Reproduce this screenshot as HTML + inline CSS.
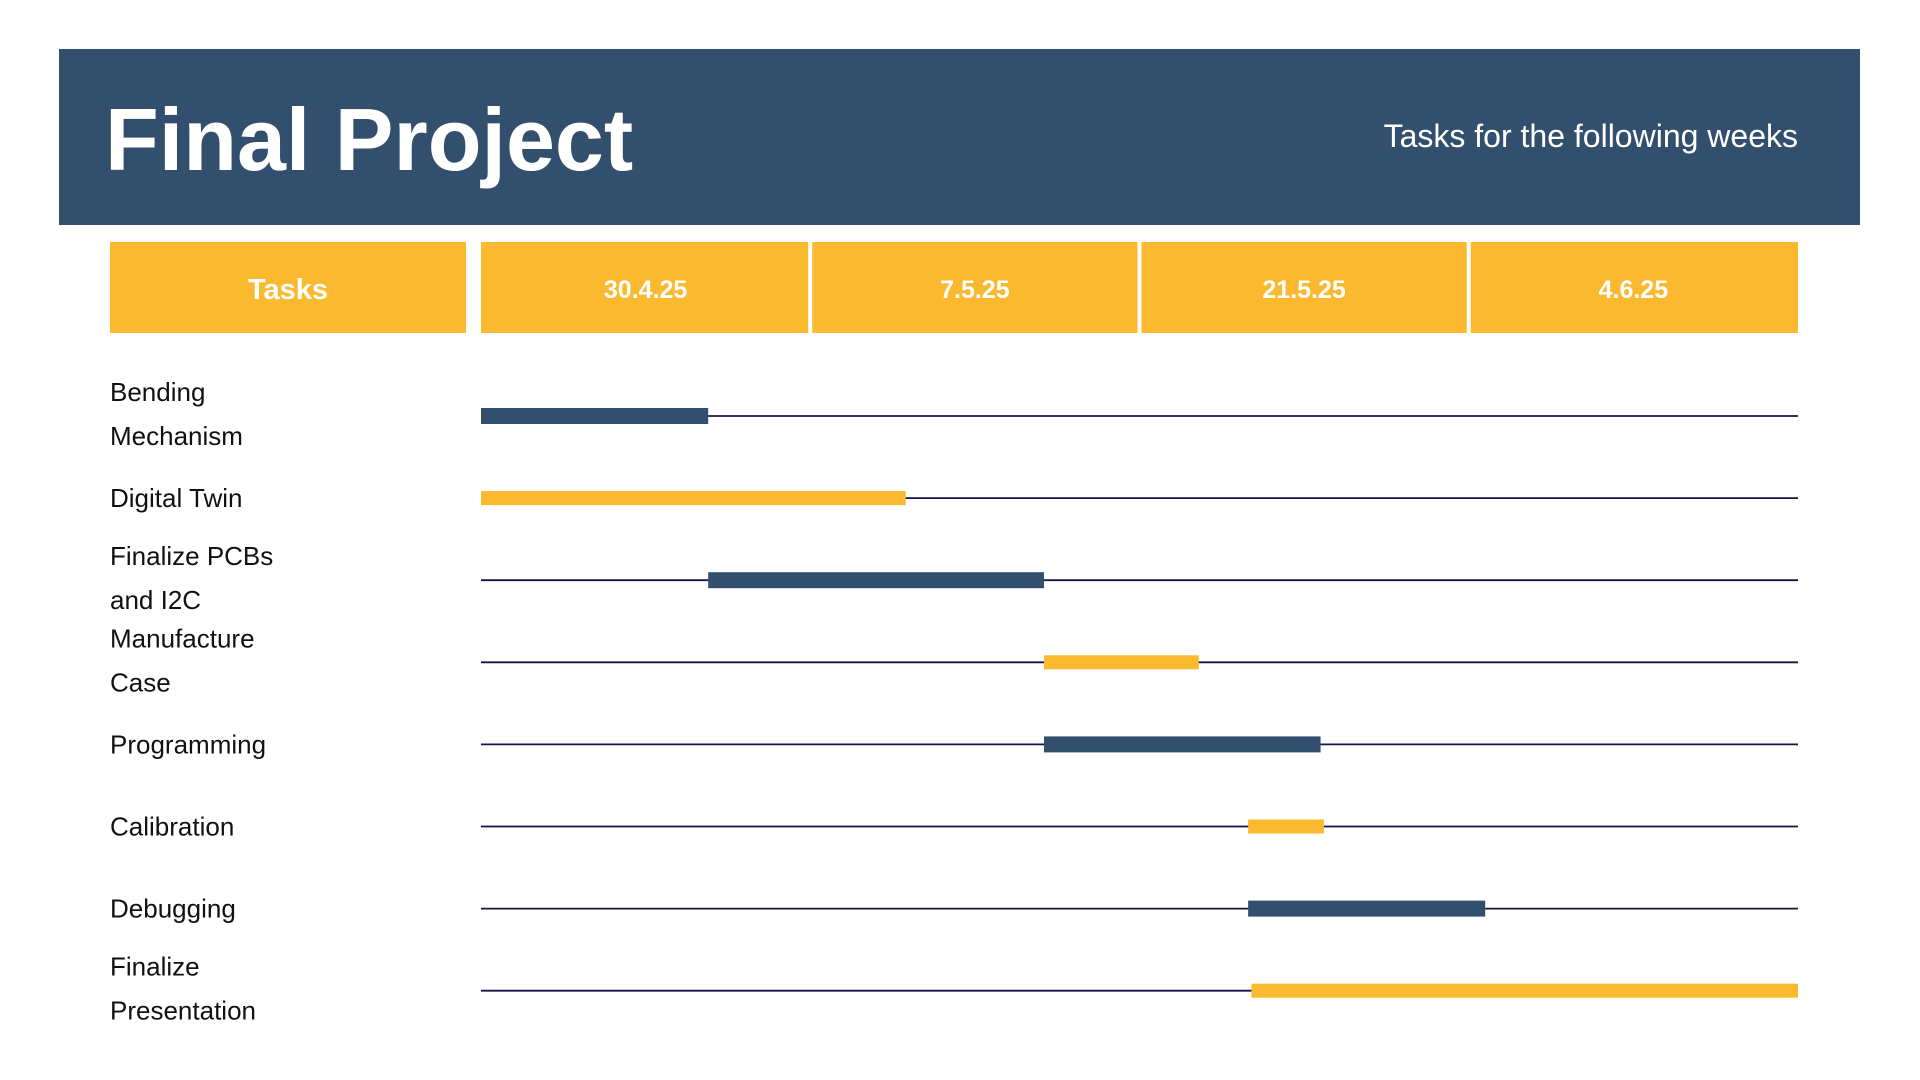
<!DOCTYPE html>
<html><head><meta charset="utf-8"><style>
html,body{margin:0;padding:0;background:#fff;}
svg{display:block;font-family:"Liberation Sans",sans-serif;}
</style></head><body>
<svg width="1920" height="1080" viewBox="0 0 1920 1080">
<rect x="59" y="49" width="1801" height="176" fill="#324f6e"/>
<text x="105" y="170" font-size="88" font-weight="bold" fill="#fff">Final Project</text>
<text x="1798" y="147" font-size="32" fill="#fff" text-anchor="end">Tasks for the following weeks</text>
<rect x="110" y="242" width="356" height="91" fill="#fbb92f"/>
<text x="288" y="299" font-size="29" font-weight="bold" fill="#fff" text-anchor="middle">Tasks</text>
<g id="cols"></g>
<g id="rows"></g>
</svg>
<script>
const dates = ["30.4.25","7.5.25","21.5.25","4.6.25"];
const tasks = [["Bending","Mechanism"],["Digital Twin"],["Finalize PCBs","and I2C"],["Manufacture","Case"],["Programming"],["Calibration"],["Debugging"],["Finalize","Presentation"]];
const starts = [0,0,0.69,1.71,1.71,2.33,2.33,2.34];
const ends = [0.69,1.29,1.71,2.18,2.55,2.56,3.05,4.0];
const colors = ["#324f6e","#fbb92f","#324f6e","#fbb92f","#324f6e","#fbb92f","#324f6e","#fbb92f"];
const NS="http://www.w3.org/2000/svg";
const X0=481, X1=1798;
const xs = v => X0 + v*(X1-X0)/dates.length;
const ys = i => 416 + i*82.1;
const cols=document.getElementById('cols'), rows=document.getElementById('rows');
function mk(tag,attrs,parent){const e=document.createElementNS(NS,tag);for(const k in attrs)e.setAttribute(k,attrs[k]);parent.appendChild(e);return e;}
dates.forEach((d,i)=>{
  const r=mk('rect',{x:xs(i)+(i?2:0),y:242,width:xs(i+1)-xs(i)-(i?2:0)-(i<dates.length-1?2:0),height:91,fill:'#fbb92f'},cols);
  
  
  const t=mk('text',{x:(xs(i)+xs(i+1))/2,y:298,'font-size':25,'font-weight':'bold',fill:'#fff','text-anchor':'middle'},cols);
  t.textContent=d;
  
  
});
tasks.forEach((lines,i)=>{
  const y=ys(i);
  const l=mk('line',{x1:X0,x2:X1,y1:y,y2:y,stroke:'#14124a','stroke-width':1.8},rows);
  
  
  const h=colors[i]==='#fbb92f'?14:16;
  const b=mk('rect',{x:xs(starts[i]),y:y-h/2,width:xs(ends[i])-xs(starts[i]),height:h,fill:colors[i]},rows);
  
  
  const t=mk('text',{x:110,'font-size':26,fill:'#111'},rows);
  
  
  const base = lines.length===2 ? y-15 : y+9;
  lines.forEach((s,j)=>{const ts=mk('tspan',{x:110,y:base+j*44},t);ts.textContent=s;});
});
</script>
</body></html>
